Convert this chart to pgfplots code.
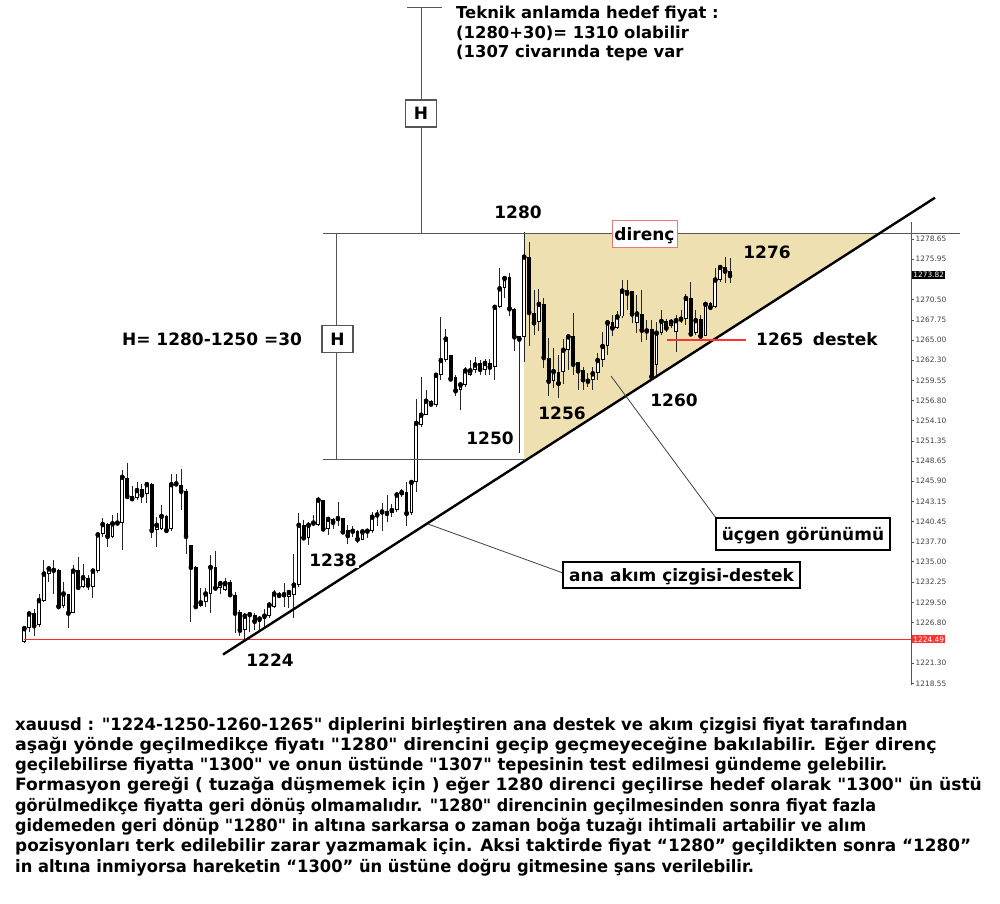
\documentclass[border=0pt]{standalone}
\usepackage{fontspec}
\setmainfont{DejaVu Sans}[Ligatures=TeXOff]
\usepackage{pgfplots}
\pgfplotsset{compat=1.18}
\usepackage{pgfplotstable}
\definecolor{tritan}{RGB}{238,224,176}
\definecolor{axgray}{RGB}{85,85,85}
\definecolor{mtred}{RGB}{255,50,50}
\definecolor{lvlred}{RGB}{255,40,40}
\definecolor{boxred}{RGB}{235,120,120}

\pgfplotstableread{
i o h l c
0 1224.2 1226.2 1224.0 1226.0
1 1226.0 1228.3 1225.5 1228.0
2 1228.0 1228.6 1224.9 1226.4
3 1226.4 1230.7 1226.2 1229.8
4 1229.7 1235.2 1229.6 1233.4
5 1233.4 1234.3 1232.3 1234.1
6 1234.0 1235.2 1230.7 1233.9
7 1233.9 1234.0 1228.9 1229.0
8 1229.0 1232.2 1228.7 1230.7
9 1230.6 1230.7 1226.0 1228.1
10 1228.1 1234.6 1228.0 1233.8
11 1233.9 1235.7 1231.2 1231.6
12 1231.6 1234.7 1231.4 1232.9
13 1232.8 1233.2 1231.2 1231.9
14 1231.6 1233.8 1230.1 1233.8
15 1233.7 1238.9 1233.5 1238.7
16 1238.7 1240.9 1238.3 1240.1
17 1240.1 1240.2 1237.0 1238.5
18 1238.3 1241.3 1238.2 1240.2
19 1240.1 1241.6 1240.1 1240.3
20 1240.2 1247.4 1236.6 1246.5
21 1246.4 1248.4 1243.8 1243.9
22 1243.9 1245.2 1243.5 1243.6
23 1243.6 1245.8 1243.4 1244.7
24 1244.8 1245.5 1243.0 1244.1
25 1244.2 1245.7 1243.0 1245.5
26 1245.5 1245.6 1238.2 1239.3
27 1239.3 1241.1 1237.0 1240.0
28 1239.4 1242.7 1239.3 1241.2
29 1241.2 1241.3 1239.1 1239.3
30 1239.4 1246.9 1239.1 1245.5
31 1245.4 1246.9 1245.3 1245.6
32 1245.4 1247.6 1242.0 1244.6
33 1244.6 1244.8 1236.1 1238.5
34 1237.3 1237.3 1226.9 1234.3
35 1234.3 1234.4 1228.9 1229.0
36 1229.0 1231.4 1228.9 1229.5
37 1229.5 1231.4 1228.9 1230.7
38 1230.7 1235.9 1228.0 1234.3
39 1234.3 1236.4 1231.4 1231.5
40 1231.5 1232.3 1230.6 1232.1
41 1231.2 1232.8 1231.0 1232.1
42 1232.2 1232.6 1230.3 1230.6
43 1230.5 1230.9 1225.3 1228.1
44 1228.2 1228.5 1224.9 1225.8
45 1225.8 1228.0 1224.4 1227.7
46 1227.6 1228.1 1225.5 1227.9
47 1227.8 1228.0 1225.8 1227.0
48 1226.9 1227.7 1225.5 1227.3
49 1227.3 1228.6 1226.2 1227.7
50 1227.6 1229.6 1227.4 1229.2
51 1228.9 1231.2 1228.7 1230.7
52 1230.7 1230.9 1230.3 1230.5
53 1230.3 1232.1 1228.9 1230.6
54 1230.3 1230.9 1228.7 1230.9
55 1230.5 1236.1 1227.4 1231.9
56 1231.9 1241.6 1231.6 1240.0
57 1240.0 1240.7 1238.2 1238.3
58 1238.2 1240.4 1237.3 1240.0
59 1240.1 1241.3 1240.0 1240.3
60 1240.0 1243.8 1239.8 1243.4
61 1243.3 1243.4 1239.4 1239.5
62 1239.5 1240.9 1238.6 1240.8
63 1240.8 1240.9 1239.5 1240.4
64 1240.6 1243.1 1239.8 1240.9
65 1240.9 1240.9 1238.9 1239.1
66 1239.3 1240.0 1237.4 1238.6
67 1238.9 1239.8 1238.4 1239.2
68 1239.2 1239.3 1237.6 1238.1
69 1238.0 1239.3 1237.9 1239.1
70 1239.0 1239.3 1238.2 1239.2
71 1239.1 1241.8 1238.9 1241.1
72 1241.1 1242.0 1239.8 1241.4
73 1241.6 1242.9 1239.1 1241.8
74 1241.8 1244.0 1240.4 1241.6
75 1241.6 1242.8 1241.1 1242.0
76 1242.0 1244.3 1241.8 1244.1
77 1244.1 1244.9 1243.8 1244.4
78 1244.5 1245.8 1239.9 1241.6
79 1241.6 1246.1 1241.3 1245.8
80 1245.8 1257.0 1244.5 1253.8
81 1253.5 1260.0 1253.3 1254.9
82 1254.9 1258.2 1254.9 1256.8
83 1256.8 1256.9 1256.2 1256.4
84 1256.2 1260.5 1256.0 1260.3
85 1260.3 1268.1 1259.6 1262.3
86 1262.3 1266.5 1262.1 1265.2
87 1263.0 1263.0 1259.8 1259.8
88 1260.0 1260.3 1257.4 1258.2
89 1258.2 1259.4 1255.5 1259.0
90 1258.9 1261.3 1258.7 1260.9
91 1260.3 1262.3 1260.1 1260.9
92 1260.9 1262.7 1260.5 1261.7
93 1261.9 1262.3 1260.3 1261.1
94 1260.9 1262.5 1260.3 1261.9
95 1261.9 1262.5 1260.3 1261.4
96 1261.3 1269.8 1259.6 1269.5
97 1269.5 1274.7 1269.3 1272.0
98 1272.1 1273.5 1270.7 1273.4
99 1273.5 1274.1 1268.2 1269.3
100 1269.2 1269.3 1263.5 1265.5
101 1265.5 1265.5 1249.7 1265.2
102 1265.4 1279.6 1262.1 1276.3
103 1276.2 1278.3 1264.2 1268.8
104 1268.7 1271.8 1265.7 1267.4
105 1267.4 1271.9 1266.2 1269.9
106 1269.9 1270.7 1261.2 1262.7
107 1262.6 1265.3 1257.4 1259.5
108 1259.5 1263.9 1258.5 1260.8
109 1260.7 1263.0 1257.2 1259.2
110 1260.7 1265.1 1259.0 1263.7
111 1263.6 1265.5 1261.0 1265.5
112 1265.5 1268.7 1260.3 1261.8
113 1262.0 1262.1 1258.2 1260.9
114 1260.9 1261.4 1258.2 1259.7
115 1259.7 1260.5 1258.7 1259.5
116 1259.6 1261.4 1258.2 1260.5
117 1260.5 1263.2 1259.6 1262.3
118 1262.3 1266.1 1261.4 1264.2
119 1264.2 1267.7 1263.0 1267.4
120 1267.4 1268.4 1265.5 1266.7
121 1266.7 1268.9 1266.5 1268.2
122 1268.2 1273.1 1268.0 1271.7
123 1271.8 1273.1 1269.1 1271.4
124 1271.6 1271.7 1267.3 1268.6
125 1267.3 1271.1 1265.9 1268.6
126 1268.6 1271.8 1264.8 1266.4
127 1266.5 1267.7 1265.0 1266.3
128 1266.5 1267.7 1259.5 1260.1
129 1261.6 1267.5 1259.9 1266.0
130 1265.9 1269.1 1265.7 1267.6
131 1267.6 1267.9 1266.1 1266.7
132 1266.9 1267.9 1266.6 1267.5
133 1266.1 1268.4 1263.4 1267.7
134 1267.6 1269.1 1267.3 1267.9
135 1267.9 1271.3 1267.0 1270.7
136 1270.7 1272.9 1265.6 1265.9
137 1265.9 1269.1 1265.7 1267.7
138 1267.8 1268.4 1265.2 1265.6
139 1265.6 1270.2 1265.5 1269.9
140 1270.0 1270.2 1269.5 1269.5
141 1269.5 1274.7 1269.3 1273.2
142 1273.2 1275.2 1272.9 1274.9
143 1274.9 1276.3 1272.7 1274.4
144 1274.3 1276.1 1272.7 1273.8
}\candles

\begin{document}
\begin{tikzpicture}
\path[use as bounding box] (0,0) rectangle (1000pt,-903pt);
% background: triangle
\begin{scope}[x=1pt,y=-1pt]
  \fill[tritan] (524,233) -- (880,233) -- (524,461.4) -- cycle;
\end{scope}

\begin{axis}[
  name=ax, at={(0pt,-222pt)}, anchor=north west,
  scale only axis, width=911pt, height=463pt,
  xmin=-4.958, xmax=180.93, ymin=1218.32, ymax=1280.99,
  axis x line=none, axis y line*=right,
  y axis line style={draw=axgray, line width=1pt, -},
  xtick=\empty,
  ytick={1218.55,1221.30,1226.80,1229.50,1232.25,1235.00,1237.70,1240.45,1243.15,1245.90,1248.65,1251.35,1254.10,1256.80,1259.55,1262.30,1265.00,1267.75,1270.50,1275.95,1278.65},
  tick align=outside, major tick length=3pt,
  tick style={draw=axgray, line width=0.6pt},
  yticklabel style={font=\fontsize{7.4}{8}\selectfont, text=black!75, inner sep=1.5pt},
  /pgf/number format/fixed, /pgf/number format/fixed zerofill,
  /pgf/number format/precision=2, /pgf/number format/1000 sep={},
  /pgf/number format/assume math mode=true,
]
% wicks
\addplot[only marks, mark=none, forget plot,
  error bars/.cd, y dir=both, y explicit, error mark=none,
  error bar style={line width=0.9pt, draw=black!85}]
  table[x=i, y=c, y error plus expr=\thisrow{h}-\thisrow{c}, y error minus expr=\thisrow{c}-\thisrow{l}] {\candles};
% bodies (outline / black fill)
\addplot[only marks, mark=none, forget plot,
  error bars/.cd, y dir=both, y explicit, error mark=none,
  error bar style={line width=3.8pt, draw=black}]
  table[x=i, y=c, y error plus expr={max(\thisrow{o},\thisrow{c})-\thisrow{c}}, y error minus expr={\thisrow{c}-min(\thisrow{o},\thisrow{c})}] {\candles};
% hollow interior of rising candles
\addplot[only marks, mark=none, forget plot,
  error bars/.cd, y dir=both, y explicit, error mark=none,
  error bar style={line width=1.8pt, draw=white}]
  table[x=i, y expr=\thisrow{c}-0.135, y error plus expr=0, y error minus expr={max(\thisrow{c}-\thisrow{o}-0.27,0)}] {\candles};
% 1224.49 level
\addplot[color=lvlred, solid, line width=1.7pt, mark=none, forget plot] coordinates {(0,1224.49) (180.93,1224.49)};
\end{axis}

\begin{scope}[x=1pt,y=-1pt,
  lbl/.style={font=\fontsize{17}{20}\selectfont\bfseries, inner sep=0pt, text=black},
  ttl/.style={font=\fontsize{16.4}{20}\selectfont\bfseries, inner sep=0pt, text=black},
  par/.style={font=\fontsize{17}{20}\selectfont\bfseries, inner sep=0pt, text=black, anchor=base west},
  ln/.style={draw=axgray, line width=1pt}]
  % price tags on scale
  \node[fill=black, text=white, font=\fontsize{7.4}{8}\selectfont, inner sep=1.2pt, anchor=west] at (912,275) {1273.82};
  \node[fill=mtred, text=white, font=\fontsize{7.4}{8}\selectfont, inner sep=1.2pt, anchor=west] at (912,639.4) {1224.49};
  % H construction
  \draw[ln] (421,7) -- (421,233);
  \draw[ln] (407,7) -- (442,7);
  \draw[ln] (323,233) -- (960,233);
  \draw[ln] (336,233) -- (336,459);
  \draw[ln] (323,459) -- (524,459);
  \node[draw=axgray, line width=1.2pt, fill=white, minimum width=31pt, minimum height=27pt, inner sep=0pt, font=\fontsize{17}{20}\selectfont\bfseries] at (421,113.5) {H};
  \node[draw=axgray, line width=1.2pt, fill=white, minimum width=31pt, minimum height=27pt, inner sep=0pt, font=\fontsize{17}{20}\selectfont\bfseries] at (337.5,339) {H};
  % trend line and support
  \draw[black, line width=2.4pt] (223,654.5) -- (935,197.7);
  \draw[mtred, line width=2pt] (667,340.3) -- (746,340.3);
  % pointers
  \draw[black!75, line width=0.8pt] (611,376) -- (716,518);
  \draw[black!75, line width=0.8pt] (428,524) -- (563,573);
  % boxes
  \draw[boxred, fill=white, line width=1pt] (612,220) rectangle (677,247);
  \node[lbl, anchor=base] at (644.5,240) {direnç};
  \draw[black, fill=white, line width=1.3pt] (716,518) rectangle (890,550);
  \node[lbl, anchor=base] at (803,540) {üçgen görünümü};
  \draw[black, fill=white, line width=1.3pt] (563,562) rectangle (800,588);
  \node[lbl, anchor=base] at (681.5,581) {ana akım çizgisi-destek};
  % labels
  \node[lbl] at (518,212) {1280};
  \node[lbl] at (767,252) {1276};
  \node[lbl] at (212,339) {H= 1280-1250 =30};
  \node[lbl, anchor=base west] at (756,345) {1265\hspace{0.55em}destek};
  \node[lbl] at (562,413) {1256};
  \node[lbl] at (674,400) {1260};
  \node[lbl] at (490,438) {1250};
  \node[lbl, fill=white, inner sep=2pt] at (333,560) {1238};
  \node[lbl] at (270,660) {1224};
  % target text
  \node[ttl, anchor=base west] at (456,18.3) {Teknik anlamda hedef fiyat :};
  \node[ttl, anchor=base west] at (456,38) {(1280+30)= 1310 olabilir};
  \node[ttl, anchor=base west] at (456,57.5) {(1307 civarında tepe var};
  % commentary
  \node[par] at (15,730) {\scalebox{0.967}[1]{xauusd : "1224-1250-1260-1265" diplerini birleştiren ana destek ve akım çizgisi fiyat tarafından}};
  \node[par] at (15,750.3) {\scalebox{1.025}[1]{aşağı yönde geçilmedikçe fiyatı "1280" direncini geçip geçmeyeceğine bakılabilir. Eğer direnç}};
  \node[par] at (15,770.6) {\scalebox{0.965}[1]{geçilebilirse fiyatta "1300" ve onun üstünde "1307" tepesinin test edilmesi gündeme gelebilir.}};
  \node[par] at (15,790.9) {\scalebox{1.008}[1]{Formasyon gereği ( tuzağa düşmemek için ) eğer 1280 direnci geçilirse hedef olarak "1300" ün üstü}};
  \node[par] at (15,811.2) {\scalebox{0.945}[1]{görülmedikçe fiyatta geri dönüş olmamalıdır. "1280" direncinin geçilmesinden sonra fiyat fazla}};
  \node[par] at (15,831.5) {\scalebox{0.942}[1]{gidemeden geri dönüp "1280" in altına sarkarsa o zaman boğa tuzağı ihtimali artabilir ve alım}};
  \node[par] at (15,851.8) {\scalebox{0.99}[1]{pozisyonları terk edilebilir zarar yazmamak için. Aksi taktirde fiyat “1280” geçildikten sonra “1280”}};
  \node[par] at (15,872.1) {\scalebox{0.96}[1]{in altına inmiyorsa hareketin “1300” ün üstüne doğru gitmesine şans verilebilir.}};
\end{scope}
\end{tikzpicture}
\end{document}
